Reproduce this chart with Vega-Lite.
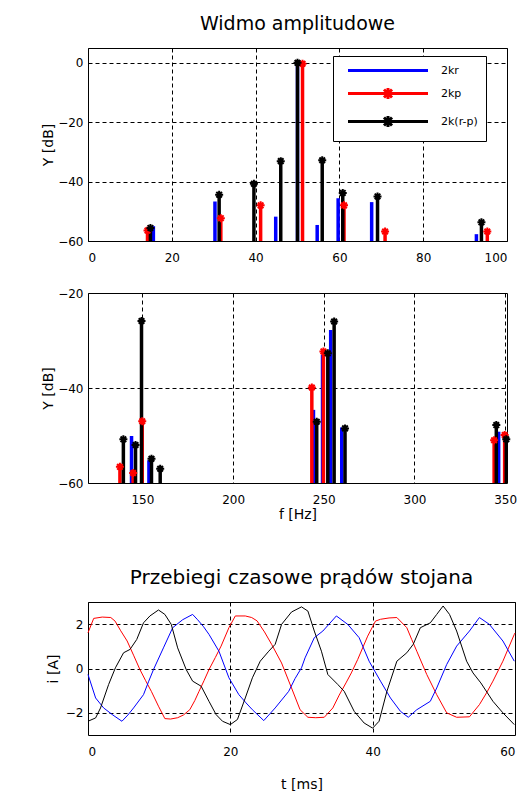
{
  "$schema": "https://vega.github.io/schema/vega-lite/v6.json",
  "background": "white",
  "padding": {"left": 41, "top": 14, "right": 5, "bottom": 5},
  "config": {
    "font": "DejaVu Sans",
    "view": {"stroke": "black", "strokeWidth": 1},
    "axis": {
      "grid": true, "gridColor": "black", "gridDash": [4, 3], "gridOpacity": 1, "gridWidth": 1,
      "domain": false, "ticks": false, "labelFontSize": 12, "labelColor": "black",
      "titleFontSize": 14, "titleFontWeight": "normal", "titleColor": "black"
    },
    "axisX": {"labelPadding": 11, "titlePadding": 8},
    "axisY": {"labelPadding": 5, "titlePadding": 2},
    "title": {"fontSize": 19, "fontWeight": "normal", "color": "black", "offset": 14}
  },
  "datasets": {
    "widmo1": [
      {"f": 15.6, "db": -55.0, "s": "2kr"},
      {"f": 30.3, "db": -46.7, "s": "2kr"},
      {"f": 44.8, "db": -51.8, "s": "2kr"},
      {"f": 50.0, "db": 0.0, "s": "2kr"},
      {"f": 54.7, "db": -54.6, "s": "2kr"},
      {"f": 59.7, "db": -45.6, "s": "2kr"},
      {"f": 67.7, "db": -46.9, "s": "2kr"},
      {"f": 92.7, "db": -57.7, "s": "2kr"},
      {"f": 14.2, "db": -56.5, "s": "2kp"},
      {"f": 31.7, "db": -52.3, "s": "2kp"},
      {"f": 41.2, "db": -48.0, "s": "2kp"},
      {"f": 51.2, "db": -0.3, "s": "2kp"},
      {"f": 61.1, "db": -48.0, "s": "2kp"},
      {"f": 70.9, "db": -56.8, "s": "2kp"},
      {"f": 95.3, "db": -56.8, "s": "2kp"},
      {"f": 14.9, "db": -55.6, "s": "2k(r-p)"},
      {"f": 31.3, "db": -44.4, "s": "2k(r-p)"},
      {"f": 39.6, "db": -40.7, "s": "2k(r-p)"},
      {"f": 46.0, "db": -33.1, "s": "2k(r-p)"},
      {"f": 50.0, "db": 0.0, "s": "2k(r-p)"},
      {"f": 55.9, "db": -32.8, "s": "2k(r-p)"},
      {"f": 60.8, "db": -43.8, "s": "2k(r-p)"},
      {"f": 69.1, "db": -45.0, "s": "2k(r-p)"},
      {"f": 93.9, "db": -53.7, "s": "2k(r-p)"}
    ],
    "widmo2": [
      {"f": 144.0, "db": -50.1, "s": "2kr"},
      {"f": 153.6, "db": -55.2, "s": "2kr"},
      {"f": 244.3, "db": -44.6, "s": "2kr"},
      {"f": 249.3, "db": -33.0, "s": "2kr"},
      {"f": 253.8, "db": -27.8, "s": "2kr"},
      {"f": 259.9, "db": -48.3, "s": "2kr"},
      {"f": 346.4, "db": -49.2, "s": "2kr"},
      {"f": 137.6, "db": -56.6, "s": "2kp"},
      {"f": 144.9, "db": -57.9, "s": "2kp"},
      {"f": 149.9, "db": -47.0, "s": "2kp"},
      {"f": 243.4, "db": -39.9, "s": "2kp"},
      {"f": 249.8, "db": -32.3, "s": "2kp"},
      {"f": 343.9, "db": -51.0, "s": "2kp"},
      {"f": 349.7, "db": -49.9, "s": "2kp"},
      {"f": 139.5, "db": -50.8, "s": "2k(r-p)"},
      {"f": 146.2, "db": -52.0, "s": "2k(r-p)"},
      {"f": 149.5, "db": -25.9, "s": "2k(r-p)"},
      {"f": 155.0, "db": -54.9, "s": "2k(r-p)"},
      {"f": 159.8, "db": -57.0, "s": "2k(r-p)"},
      {"f": 246.1, "db": -47.1, "s": "2k(r-p)"},
      {"f": 252.2, "db": -32.7, "s": "2k(r-p)"},
      {"f": 255.7, "db": -26.0, "s": "2k(r-p)"},
      {"f": 261.7, "db": -48.5, "s": "2k(r-p)"},
      {"f": 345.1, "db": -47.8, "s": "2k(r-p)"},
      {"f": 350.6, "db": -50.8, "s": "2k(r-p)"}
    ],
    "prady": [
      {"t": 0, "i": 1.61, "s": "a"}, {"t": 0.8, "i": 2.26, "s": "a"}, {"t": 2.0, "i": 2.32, "s": "a"}, {"t": 3.2, "i": 2.3, "s": "a"},
      {"t": 3.8, "i": 2.14, "s": "a"}, {"t": 4.6, "i": 1.7, "s": "a"}, {"t": 5.5, "i": 1.24, "s": "a"}, {"t": 6.4, "i": 0.6, "s": "a"},
      {"t": 7.3, "i": -0.05, "s": "a"}, {"t": 8.1, "i": -0.55, "s": "a"}, {"t": 8.9, "i": -1.03, "s": "a"}, {"t": 9.9, "i": -1.7, "s": "a"},
      {"t": 10.8, "i": -2.26, "s": "a"}, {"t": 11.6, "i": -2.28, "s": "a"}, {"t": 12.6, "i": -2.22, "s": "a"}, {"t": 13.4, "i": -2.1, "s": "a"},
      {"t": 14.3, "i": -1.86, "s": "a"}, {"t": 15.0, "i": -1.45, "s": "a"}, {"t": 15.6, "i": -1.03, "s": "a"}, {"t": 16.3, "i": -0.55, "s": "a"},
      {"t": 17.0, "i": -0.05, "s": "a"}, {"t": 17.9, "i": 0.5, "s": "a"}, {"t": 18.7, "i": 1.01, "s": "a"}, {"t": 19.8, "i": 1.84, "s": "a"},
      {"t": 20.7, "i": 2.37, "s": "a"}, {"t": 22.1, "i": 2.37, "s": "a"}, {"t": 23.0, "i": 2.3, "s": "a"}, {"t": 23.75, "i": 2.15, "s": "a"},
      {"t": 24.8, "i": 1.65, "s": "a"}, {"t": 25.8, "i": 1.09, "s": "a"}, {"t": 27.2, "i": 0.25, "s": "a"}, {"t": 28.6, "i": -0.88, "s": "a"},
      {"t": 29.8, "i": -1.86, "s": "a"}, {"t": 30.9, "i": -2.2, "s": "a"}, {"t": 32.0, "i": -2.22, "s": "a"}, {"t": 33.2, "i": -2.2, "s": "a"},
      {"t": 34.4, "i": -1.78, "s": "a"}, {"t": 35.3, "i": -1.2, "s": "a"}, {"t": 36.25, "i": -0.65, "s": "a"}, {"t": 37.0, "i": -0.2, "s": "a"},
      {"t": 37.9, "i": 0.41, "s": "a"}, {"t": 39.3, "i": 1.46, "s": "a"}, {"t": 40.4, "i": 2.14, "s": "a"}, {"t": 41.1, "i": 2.22, "s": "a"},
      {"t": 42.3, "i": 2.28, "s": "a"}, {"t": 43.4, "i": 2.3, "s": "a"}, {"t": 44.8, "i": 1.84, "s": "a"}, {"t": 45.5, "i": 1.3, "s": "a"},
      {"t": 46.2, "i": 0.78, "s": "a"}, {"t": 47.6, "i": -0.27, "s": "a"}, {"t": 49.0, "i": -1.18, "s": "a"}, {"t": 50.4, "i": -2.0, "s": "a"},
      {"t": 51.8, "i": -2.2, "s": "a"}, {"t": 53.6, "i": -2.18, "s": "a"}, {"t": 55.0, "i": -1.63, "s": "a"}, {"t": 56.0, "i": -1.1, "s": "a"},
      {"t": 56.9, "i": -0.57, "s": "a"}, {"t": 58.3, "i": 0.33, "s": "a"}, {"t": 59.9, "i": 1.54, "s": "a"}, {"t": 60.0, "i": 1.6, "s": "a"},
      {"t": 0, "i": -0.27, "s": "b"}, {"t": 1.07, "i": -1.33, "s": "b"}, {"t": 2.2, "i": -1.78, "s": "b"}, {"t": 3.5, "i": -2.1, "s": "b"},
      {"t": 4.77, "i": -2.38, "s": "b"}, {"t": 5.6, "i": -2.1, "s": "b"}, {"t": 6.4, "i": -1.78, "s": "b"}, {"t": 7.8, "i": -1.18, "s": "b"},
      {"t": 8.5, "i": -0.6, "s": "b"}, {"t": 9.2, "i": -0.05, "s": "b"}, {"t": 10.6, "i": 0.93, "s": "b"}, {"t": 11.9, "i": 1.84, "s": "b"},
      {"t": 13.3, "i": 2.2, "s": "b"}, {"t": 14.7, "i": 2.44, "s": "b"}, {"t": 15.4, "i": 2.2, "s": "b"}, {"t": 16.2, "i": 1.9, "s": "b"},
      {"t": 17.0, "i": 1.54, "s": "b"}, {"t": 18.4, "i": 0.78, "s": "b"}, {"t": 19.8, "i": -0.42, "s": "b"}, {"t": 21.2, "i": -1.18, "s": "b"},
      {"t": 22.2, "i": -1.55, "s": "b"}, {"t": 23.1, "i": -1.86, "s": "b"}, {"t": 24.7, "i": -2.35, "s": "b"}, {"t": 26.3, "i": -1.78, "s": "b"},
      {"t": 28.2, "i": -1.03, "s": "b"}, {"t": 29.1, "i": -0.45, "s": "b"}, {"t": 30.0, "i": 0.03, "s": "b"}, {"t": 30.5, "i": 0.48, "s": "b"},
      {"t": 31.8, "i": 1.39, "s": "b"}, {"t": 33.0, "i": 1.69, "s": "b"}, {"t": 34.9, "i": 2.37, "s": "b"}, {"t": 36.5, "i": 1.99, "s": "b"},
      {"t": 38.1, "i": 1.39, "s": "b"}, {"t": 39.5, "i": 0.33, "s": "b"}, {"t": 41.1, "i": -0.57, "s": "b"}, {"t": 42.5, "i": -1.33, "s": "b"},
      {"t": 43.9, "i": -1.93, "s": "b"}, {"t": 45.0, "i": -2.2, "s": "b"}, {"t": 46.2, "i": -1.86, "s": "b"}, {"t": 48.1, "i": -1.48, "s": "b"},
      {"t": 49.0, "i": -0.88, "s": "b"}, {"t": 50.4, "i": 0.18, "s": "b"}, {"t": 51.8, "i": 1.01, "s": "b"}, {"t": 53.6, "i": 1.69, "s": "b"},
      {"t": 55.0, "i": 2.3, "s": "b"}, {"t": 56.4, "i": 1.99, "s": "b"}, {"t": 58.3, "i": 1.24, "s": "b"}, {"t": 59.9, "i": 0.33, "s": "b"},
      {"t": 0, "i": -2.38, "s": "c"}, {"t": 1.07, "i": -2.23, "s": "c"}, {"t": 1.76, "i": -1.78, "s": "c"}, {"t": 2.9, "i": -0.72, "s": "c"},
      {"t": 3.85, "i": 0.03, "s": "c"}, {"t": 5.0, "i": 0.71, "s": "c"}, {"t": 5.9, "i": 0.86, "s": "c"}, {"t": 6.85, "i": 1.31, "s": "c"},
      {"t": 7.8, "i": 2.06, "s": "c"}, {"t": 8.7, "i": 2.37, "s": "c"}, {"t": 9.9, "i": 2.64, "s": "c"}, {"t": 10.8, "i": 2.44, "s": "c"},
      {"t": 11.7, "i": 1.99, "s": "c"}, {"t": 12.6, "i": 0.93, "s": "c"}, {"t": 13.8, "i": -0.05, "s": "c"}, {"t": 14.7, "i": -0.57, "s": "c"},
      {"t": 15.9, "i": -0.8, "s": "c"}, {"t": 17.0, "i": -1.48, "s": "c"}, {"t": 18.0, "i": -2.08, "s": "c"}, {"t": 18.9, "i": -2.38, "s": "c"},
      {"t": 20.0, "i": -2.53, "s": "c"}, {"t": 21.0, "i": -2.3, "s": "c"}, {"t": 22.1, "i": -1.33, "s": "c"}, {"t": 23.1, "i": -0.42, "s": "c"},
      {"t": 24.2, "i": 0.33, "s": "c"}, {"t": 25.4, "i": 0.78, "s": "c"}, {"t": 26.3, "i": 1.09, "s": "c"}, {"t": 27.2, "i": 1.99, "s": "c"},
      {"t": 28.6, "i": 2.55, "s": "c"}, {"t": 30.0, "i": 2.78, "s": "c"}, {"t": 30.9, "i": 2.59, "s": "c"}, {"t": 31.8, "i": 1.69, "s": "c"},
      {"t": 32.8, "i": 0.78, "s": "c"}, {"t": 33.7, "i": -0.27, "s": "c"}, {"t": 35.1, "i": -0.72, "s": "c"}, {"t": 36.0, "i": -1.03, "s": "c"},
      {"t": 37.4, "i": -1.93, "s": "c"}, {"t": 38.8, "i": -2.46, "s": "c"}, {"t": 40.0, "i": -2.69, "s": "c"}, {"t": 40.9, "i": -2.38, "s": "c"},
      {"t": 42.0, "i": -1.03, "s": "c"}, {"t": 43.4, "i": 0.33, "s": "c"}, {"t": 44.8, "i": 0.71, "s": "c"}, {"t": 45.7, "i": 1.09, "s": "c"},
      {"t": 46.7, "i": 1.84, "s": "c"}, {"t": 48.1, "i": 2.06, "s": "c"}, {"t": 49.0, "i": 2.44, "s": "c"}, {"t": 49.9, "i": 2.82, "s": "c"},
      {"t": 50.8, "i": 2.44, "s": "c"}, {"t": 51.8, "i": 1.69, "s": "c"}, {"t": 53.2, "i": 0.33, "s": "c"}, {"t": 54.1, "i": -0.2, "s": "c"},
      {"t": 55.2, "i": -0.65, "s": "c"}, {"t": 56.9, "i": -1.48, "s": "c"}, {"t": 58.3, "i": -2.0, "s": "c"}, {"t": 59.9, "i": -2.53, "s": "c"}
    ]
  },
  "resolve": {"scale": {"color": "independent"}, "legend": {"color": "independent"}},
  "spacing": 45,
  "vconcat": [
    {
      "bounds": "flush",
      "spacing": 52,
      "resolve": {"scale": {"color": "independent"}, "legend": {"color": "independent"}},
      "vconcat": [
        {
          "width": 419, "height": 193,
          "title": {"text": "Widmo amplitudowe"},
          "data": {"name": "widmo1"},
          "layer": [
            {
              "mark": {"type": "rule", "strokeWidth": 3.5},
              "encoding": {
                "x": {"field": "f", "type": "quantitative", "scale": {"domain": [0, 100], "nice": false, "zero": false}, "axis": {"values": [0, 20, 40, 60, 80, 100], "title": null}},
                "y": {"field": "db", "type": "quantitative", "scale": {"domain": [-60, 5], "nice": false, "zero": false}, "axis": {"values": [-60, -40, -20, 0], "title": "Y [dB]"}},
                "y2": {"datum": -60},
                "color": {
                  "field": "s", "type": "nominal",
                  "scale": {"domain": ["2kr", "2kp", "2k(r-p)"], "range": ["#0000ff", "#ff0000", "#000000"]},
                  "legend": {
                    "orient": "none", "legendX": 245, "legendY": 8, "title": null,
                    "fillColor": "white", "strokeColor": "black", "padding": 8,
                    "symbolSize": 100, "symbolStrokeWidth": 3, "symbolType": "M0.1,0L16.1,0",
                    "labelFontSize": 11, "labelColor": "black", "labelOffset": 87, "rowPadding": 5,
                    "encode": {
                      "symbols": {
                        "update": {
                          "shape": [
                            {"test": "datum.value === '2kr'", "value": "M0.1,0L16.1,0"},
                            {"value": "M0.1,0L16.1,0M7.3,-0.8L8.9,0.8M7.3,0.8L8.9,-0.8M8.1,-1.1L8.1,1.1"}
                          ]
                        }
                      }
                    }
                  }
                }
              }
            },
            {
              "transform": [{"filter": "datum.s !== '2kr'"}],
              "mark": {"type": "point", "shape": "M-1,0L1,0M0,-1L0,1M-0.7,-0.7L0.7,0.7M-0.7,0.7L0.7,-0.7", "size": 64, "filled": false, "strokeWidth": 2, "opacity": 1},
              "encoding": {
                "x": {"field": "f", "type": "quantitative"},
                "y": {"field": "db", "type": "quantitative"},
                "color": {"field": "s", "type": "nominal", "legend": null}
              }
            }
          ]
        },
        {
          "width": 419, "height": 190,
          "data": {"name": "widmo2"},
          "layer": [
            {
              "mark": {"type": "rule", "strokeWidth": 3.5},
              "encoding": {
                "x": {"field": "f", "type": "quantitative", "scale": {"domain": [120, 351], "nice": false, "zero": false}, "axis": {"values": [150, 200, 250, 300, 350], "title": "f [Hz]", "titlePadding": 2}},
                "y": {"field": "db", "type": "quantitative", "scale": {"domain": [-60, -20], "nice": false, "zero": false}, "axis": {"values": [-60, -40, -20], "title": "Y [dB]"}},
                "y2": {"datum": -60},
                "color": {"field": "s", "type": "nominal", "scale": {"domain": ["2kr", "2kp", "2k(r-p)"], "range": ["#0000ff", "#ff0000", "#000000"]}, "legend": null}
              }
            },
            {
              "transform": [{"filter": "datum.s !== '2kr'"}],
              "mark": {"type": "point", "shape": "M-1,0L1,0M0,-1L0,1M-0.7,-0.7L0.7,0.7M-0.7,0.7L0.7,-0.7", "size": 64, "filled": false, "strokeWidth": 2, "opacity": 1},
              "encoding": {
                "x": {"field": "f", "type": "quantitative"},
                "y": {"field": "db", "type": "quantitative"},
                "color": {"field": "s", "type": "nominal", "legend": null}
              }
            }
          ]
        }
      ]
    },
    {
      "width": 427, "height": 133,
      "title": {"text": "Przebiegi czasowe prądów stojana", "fontSize": 20},
      "data": {"name": "prady"},
      "mark": {"type": "line", "strokeWidth": 1},
      "encoding": {
        "x": {"field": "t", "type": "quantitative", "scale": {"domain": [0, 60], "nice": false, "zero": false}, "axis": {"values": [0, 20, 40, 60], "title": "t [ms]", "titlePadding": 20}},
        "y": {"field": "i", "type": "quantitative", "scale": {"domain": [-3, 3], "nice": false, "zero": false}, "axis": {"values": [-2, 0, 2], "title": "i [A]", "titlePadding": 5}},
        "color": {"field": "s", "type": "nominal", "scale": {"domain": ["a", "b", "c"], "range": ["#ff0000", "#0000ff", "#000000"]}, "legend": null},
        "order": {"field": "t", "type": "quantitative"}
      }
    }
  ]
}
